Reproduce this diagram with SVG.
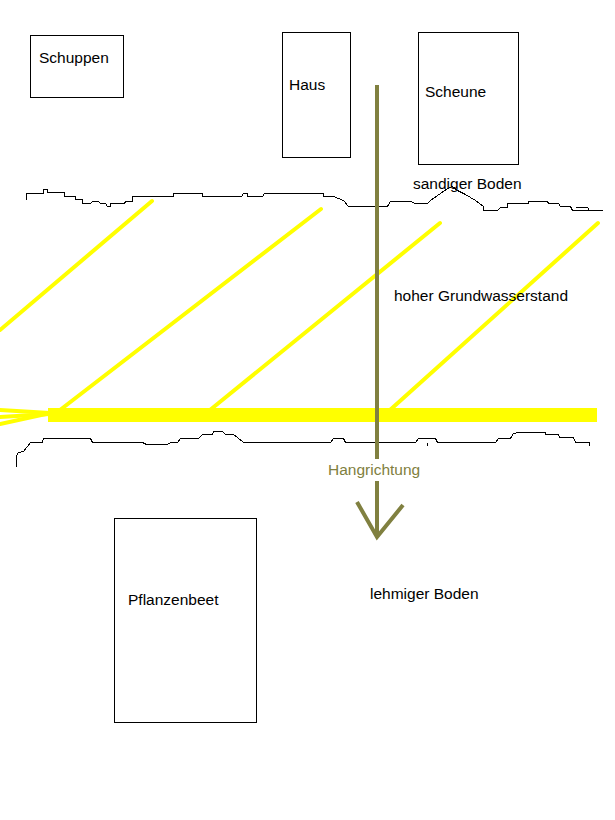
<svg xmlns="http://www.w3.org/2000/svg" width="615" height="820" viewBox="0 0 615 820">
<style>
.box{fill:none;stroke:#000;stroke-width:1}
.t{font-family:"Liberation Sans",Arial,sans-serif;font-size:15.5px;fill:#000}
.soil{fill:none;stroke:#000;stroke-width:1;shape-rendering:crispEdges}
.y{stroke:#ffff00;fill:none;stroke-linecap:round}
.ol{stroke:#808040;fill:none;stroke-width:4}
</style>
<rect width="615" height="820" fill="#fff"/>
<g id="water">
<line class="y" x1="0" y1="330" x2="152" y2="201" stroke-width="4"/>
<line class="y" x1="60" y1="410" x2="321" y2="209" stroke-width="4"/>
<line class="y" x1="210" y1="410" x2="440" y2="223" stroke-width="4"/>
<line class="y" x1="390" y1="410" x2="598" y2="223" stroke-width="4"/>
<rect x="48" y="408" width="549" height="14" fill="#ffff00"/>
<line class="y" x1="0" y1="410" x2="50" y2="413" stroke-width="4"/>
<line class="y" x1="0" y1="417" x2="50" y2="414" stroke-width="4"/>
<line class="y" x1="0" y1="424" x2="55" y2="412" stroke-width="4"/>
</g>
<g id="sandiger-boden-line">
<polyline class="soil" points="26.5,199.5 26.5,193.5 43.5,193.5 43.5,189.5 47.5,189.5 47.5,192.5 64.5,192.5 64.5,196.5 75.5,196.5 75.5,199.5 82.5,199.5 82.5,203.5 90.5,203.5 92.5,201.5 98.5,201.5 100.5,203.5 105.5,203.5 107.5,206.5 110.5,206.5 110.5,203.5 124.5,203.5 125.5,201.5 132.5,201.5 132.5,196.5 173.5,196.5 173.5,193.5 202.5,193.5 202.5,196.5 241.5,196.5 243.5,193.5 247.5,193.5 247.5,196.5 262.5,196.5 264.5,193.5 323.5,193.5 323.5,196.5 333.5,196.5 343.5,200.5 348.5,206.5 387.5,206.5 390.5,201.5 410.5,201.5 415.5,203.5 427.5,203.5 430.5,200.5 440.5,193.5 447.5,188.5 452.5,186.5 457.5,190.5 463.5,193.5 470.5,197.5 475.5,200.5 483.5,206.5 483.5,210.5 497.5,210.5 500.5,207.5 507.5,207.5 507.5,203.5 528.5,203.5 528.5,201.5 547.5,201.5 548.5,203.5 558.5,203.5 560.5,206.5 570.5,206.5 572.5,210.5 602.5,210.5"/>
<polyline class="soil" points="575.5,207.5 587.5,207.5 589.5,210.5"/>
</g>
<g id="lehmiger-boden-line">
<polyline class="soil" points="16.5,466.5 16.5,455.5 18.5,452.5 23.5,451.5 30.5,442.5 42.5,442.5 43.5,438.5 90.5,438.5 92.5,442.5 142.5,442.5 146.5,444.5 167.5,444.5 170.5,442.5 177.5,442.5 180.5,438.5 198.5,438.5 202.5,434.5 212.5,434.5 213.5,431.5 222.5,431.5 225.5,434.5 233.5,434.5 237.5,437.5 243.5,442.5 330.5,442.5 333.5,438.5 343.5,438.5 345.5,442.5 415.5,442.5 418.5,438.5 435.5,438.5 437.5,442.5 495.5,442.5 498.5,438.5 510.5,438.5 513.5,433.5 518.5,432.5 545.5,432.5 545.5,434.5 558.5,434.5 559.5,437.5 573.5,437.5 575.5,442.5 589.5,442.5 589.5,445.5"/>
<line class="soil" x1="427.5" y1="442.5" x2="427.5" y2="445.5"/>
</g>
<g id="schuppen">
<rect class="box" x="30.5" y="35.5" width="93" height="62"/>
<text class="t" x="39" y="63">Schuppen</text>
</g>
<g id="haus">
<rect class="box" x="282.5" y="32.5" width="68" height="125"/>
<text class="t" x="289" y="90">Haus</text>
</g>
<g id="scheune">
<rect class="box" x="418.5" y="32.5" width="100" height="132"/>
<text class="t" x="425" y="97">Scheune</text>
</g>
<g id="pflanzenbeet">
<rect class="box" x="114.5" y="518.5" width="142" height="204"/>
<text class="t" x="128" y="605">Pflanzenbeet</text>
</g>
<g id="labels">
<text class="t" x="413" y="189">sandiger Boden</text>
<text class="t" x="394" y="301">hoher Grundwasserstand</text>
<text class="t" x="370" y="599">lehmiger Boden</text>
</g>
<g id="connectors">
<line class="ol" x1="377" y1="85" x2="377" y2="537"/>
<polyline class="ol" points="357,502 377,537 403,505" stroke-linejoin="miter"/>
<rect x="326" y="459" width="96" height="22" fill="#fff"/>
<text x="328" y="475" style="font-family:'Liberation Sans',Arial,sans-serif;font-size:15.5px;fill:#808040">Hangrichtung</text>
</g>
</svg>
